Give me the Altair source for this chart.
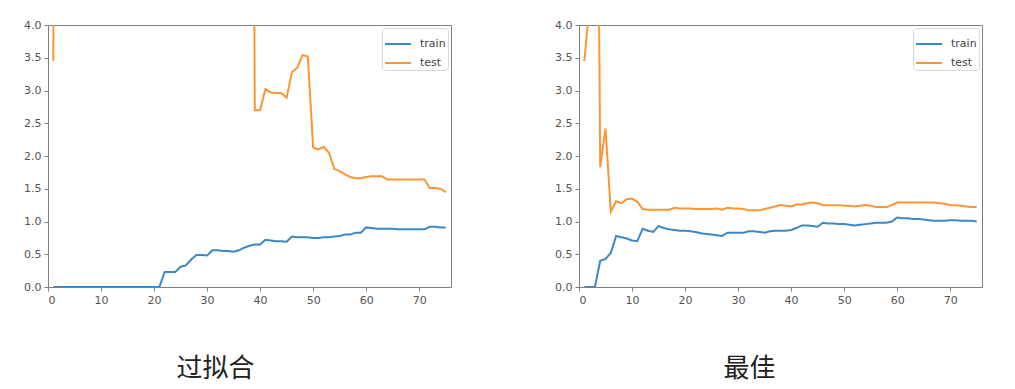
import altair as alt
import pandas as pd

x_vals = list(range(1, 76))

# Left panel: overfitting (过拟合)
left_train = [0.0] * 21 + [
    0.23, 0.23, 0.23, 0.31, 0.33, 0.42, 0.49, 0.49, 0.48, 0.56,
    0.56, 0.55, 0.55, 0.54, 0.56, 0.60, 0.63, 0.65, 0.65, 0.72,
    0.71, 0.70, 0.70, 0.69, 0.77, 0.76, 0.76, 0.76, 0.75, 0.75,
    0.76, 0.76, 0.77, 0.78, 0.80, 0.80, 0.83, 0.83, 0.91, 0.90,
    0.89, 0.89, 0.89, 0.89, 0.88, 0.88, 0.88, 0.88, 0.88, 0.88,
    0.92, 0.92, 0.91, 0.91]
left_test = [3.45] + [20.0] * 37 + [
    2.70, 2.70, 3.02, 2.97, 2.96, 2.96, 2.89, 3.28, 3.35, 3.54,
    3.52, 2.13, 2.10, 2.14, 2.05, 1.80, 1.77, 1.72, 1.68, 1.66,
    1.66, 1.68, 1.69, 1.69, 1.69, 1.64, 1.64, 1.64, 1.64, 1.64,
    1.64, 1.64, 1.64, 1.51, 1.51, 1.50, 1.45]

# Right panel: best fit (最佳)
right_train = [
    0.0, 0.0, 0.0, 0.40, 0.43, 0.52, 0.78, 0.76, 0.74, 0.71,
    0.70, 0.89, 0.86, 0.84, 0.93, 0.90, 0.88, 0.87, 0.86, 0.86,
    0.85, 0.84, 0.82, 0.81, 0.80, 0.79, 0.78, 0.83, 0.83, 0.83,
    0.83, 0.85, 0.85, 0.84, 0.83, 0.85, 0.86, 0.86, 0.86, 0.87,
    0.90, 0.94, 0.94, 0.93, 0.92, 0.98, 0.97, 0.97, 0.96, 0.96,
    0.95, 0.94, 0.95, 0.96, 0.97, 0.98, 0.98, 0.98, 1.00, 1.06,
    1.05, 1.05, 1.04, 1.04, 1.03, 1.02, 1.01, 1.01, 1.01, 1.02,
    1.02, 1.01, 1.01, 1.01, 1.00]
right_test = [
    3.45, 4.31, 12.7, 1.83, 2.42, 1.15, 1.31, 1.28, 1.34, 1.35,
    1.30, 1.19, 1.18, 1.18, 1.18, 1.18, 1.18, 1.21, 1.20, 1.20,
    1.20, 1.19, 1.19, 1.19, 1.19, 1.20, 1.18, 1.21, 1.20, 1.20,
    1.19, 1.17, 1.17, 1.17, 1.19, 1.21, 1.23, 1.25, 1.24, 1.23,
    1.26, 1.26, 1.28, 1.29, 1.28, 1.25, 1.25, 1.25, 1.25, 1.24,
    1.24, 1.23, 1.24, 1.25, 1.24, 1.22, 1.22, 1.22, 1.25, 1.29,
    1.29, 1.29, 1.29, 1.29, 1.29, 1.29, 1.29, 1.28, 1.27, 1.25,
    1.25, 1.24, 1.23, 1.22, 1.22]

series_names = ["train", "test"]
series_colors = ["#3d88c4", "#fb9634"]
x_ticks = [0, 10, 20, 30, 40, 50, 60, 70]
y_ticks = [0.0, 0.5, 1.0, 1.5, 2.0, 2.5, 3.0, 3.5, 4.0]
titles = ["过拟合", "最佳"]


def make_df(train, test):
    return pd.DataFrame({
        "x": x_vals * 2,
        "value": train + test,
        "series": ["train"] * len(train) + ["test"] * len(test),
    })


def panel(df, title, dx):
    return alt.Chart(df).mark_line(clip=True, strokeWidth=2).encode(
        x=alt.X("x:Q", scale=alt.Scale(domain=[0, 76], nice=False),
                axis=alt.Axis(values=x_ticks, title=None, grid=False)),
        y=alt.Y("value:Q", scale=alt.Scale(domain=[0, 4], nice=False),
                axis=alt.Axis(values=y_ticks, format=".1f", title=None, grid=False,
                              minExtent=39, maxExtent=39)),
        color=alt.Color("series:N",
                        scale=alt.Scale(domain=series_names, range=series_colors),
                        sort=series_names,
                        legend=alt.Legend(title=None, orient="top-right", offset=3)),
    ).properties(
        width=403, height=262,
        title=alt.TitleParams(title, orient="bottom", anchor="middle", dx=dx,
                              offset=51, fontSize=26, font="Noto Sans CJK SC",
                              fontWeight="normal", color="#222222"),
    )


left = panel(make_df(left_train, left_test), titles[0], -34)
right = panel(make_df(right_train, right_test), titles[1], -31)

chart = alt.hconcat(left, right, spacing=87).resolve_scale(
    color="independent"
).properties(
    padding={"left": 0, "top": 10, "right": 0, "bottom": 0}
).configure_view(
    stroke="#808080", strokeWidth=1
).configure_axis(
    domainColor="#808080", tickColor="#808080", tickSize=4,
    labelColor="#555555", labelFontSize=11, labelFont="DejaVu Sans",
    labelPadding=3,
).configure_legend(
    symbolType="stroke", symbolSize=676, symbolStrokeWidth=2,
    labelFontSize=11, labelFont="DejaVu Sans", labelColor="#444444",
    labelOffset=8, padding=2, strokeColor="#d8d8d8", fillColor="#ffffff",
    cornerRadius=3, rowPadding=-3,
)

chart.save("out.html", embed_options={"renderer": "svg", "actions": False})
